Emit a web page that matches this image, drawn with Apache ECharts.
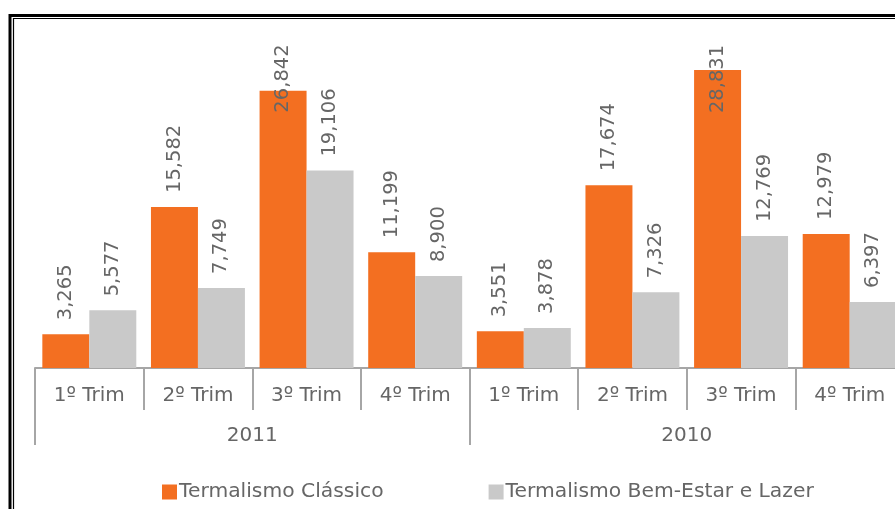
<!DOCTYPE html>
<html>
<head>
<meta charset="utf-8">
<script src="https://cdn.jsdelivr.net/npm/echarts@6/dist/echarts.min.js"></script>
<style>
html,body{margin:0;padding:0;background:#fff;overflow:hidden;width:895px;height:509px;}
#chart{width:912px;height:509px;}
</style>
</head>
<body>
<div id="chart"></div>
<script>
var quarters = ['1º Trim','2º Trim','3º Trim','4º Trim','1º Trim','2º Trim','3º Trim','4º Trim'];
var years = ['2011','2010'];
var seriesNames = ['Termalismo Clássico','Termalismo Bem-Estar e Lazer'];
var classico = [3265,15582,26842,11199,3551,17674,28831,12979];
var bemEstar = [5577,7749,19106,8900,3878,7326,12769,6397];

var ORANGE = '#F36F21';
var GRAY = '#C9C9C9';
var TEXT = '#666666';
var AXIS = '#A6A6A6';
var FONT = 'DejaVu Sans';

function fmt(p){
  return String(p.value).replace(/\B(?=(\d{3})+(?!\d))/g,',');
}
// labels that Excel pushed down into the tall bars
var labelShift = {2: -22, 6: -43};
function buildData(arr, shifts){
  return arr.map(function(v,i){
    if (shifts && shifts[i] !== undefined) {
      return {value: v, label: {distance: shifts[i]}};
    }
    return v;
  });
}

var chart = echarts.init(document.getElementById('chart'), null, {renderer:'canvas'});
var labelCfg = {
  show: true, position: 'top', rotate: 90, align: 'left', verticalAlign: 'middle',
  distance: 14, color: TEXT, fontFamily: FONT, fontSize: 19.5, formatter: fmt
};
chart.setOption({
  animation: false,
  backgroundColor: '#fff',
  textStyle: {fontFamily: FONT},
  graphic: [
    {type:'rect', shape:{x:10, y:15.5, width:1000, height:1000}, style:{fill:'none', stroke:'#000', lineWidth:3}, silent:true},
    {type:'rect', shape:{x:13.5, y:18.5, width:1000, height:1000}, style:{fill:'none', stroke:'#000', lineWidth:1.2}, silent:true}
  ],
  legend: {
    left: 157, top: 477,
    itemWidth: 15, itemHeight: 15, itemGap: 105, icon: 'rect',
    textStyle: {color: TEXT, fontFamily: FONT, fontSize: 20.3, padding: [0,0,0,-3]},
    data: seriesNames
  },
  grid: {left: 35, top: 58, width: 869, height: 310, containLabel: false},
  xAxis: [
    {
      type: 'category', data: quarters, position: 'bottom',
      axisLine: {show: true, lineStyle: {color: AXIS, width: 2}},
      axisTick: {show: true, interval: 0, length: 42, lineStyle: {color: AXIS, width: 2}},
      axisLabel: {interval: 0, margin: 18, color: TEXT, fontFamily: FONT, fontSize: 20}
    },
    {
      type: 'category', data: years, position: 'bottom', offset: 0,
      axisLine: {show: false},
      axisTick: {show: true, interval: 0, length: 77, lineStyle: {color: AXIS, width: 2}},
      axisLabel: {interval: 0, margin: 58, color: TEXT, fontFamily: FONT, fontSize: 20}
    }
  ],
  yAxis: {
    type: 'value', min: 0, max: 30000, show: false, splitLine: {show: false}
  },
  series: [
    {
      name: seriesNames[0], type: 'bar', xAxisIndex: 0,
      barGap: '0%', barCategoryGap: '13.5%',
      itemStyle: {color: ORANGE},
      label: labelCfg,
      data: buildData(classico, labelShift)
    },
    {
      name: seriesNames[1], type: 'bar', xAxisIndex: 0,
      barGap: '0%', barCategoryGap: '13.5%',
      itemStyle: {color: GRAY},
      label: labelCfg,
      data: buildData(bemEstar, null)
    }
  ]
});
</script>
</body>
</html>
